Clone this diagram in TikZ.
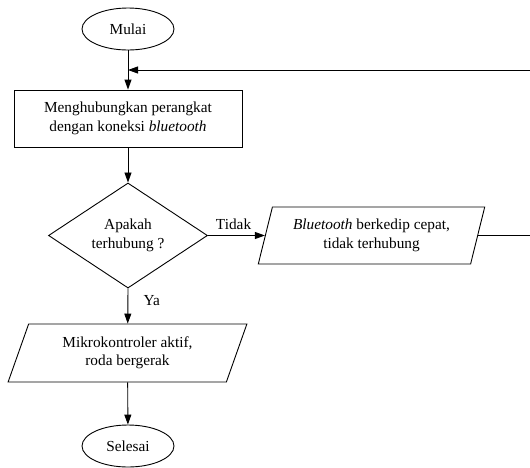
\documentclass[tikz,border=0pt]{standalone}
\usepackage{fontspec}
\setmainfont{Liberation Serif}
\usetikzlibrary{shapes.geometric,arrows.meta}
\begin{document}
\begin{tikzpicture}[x=1pt,y=-1pt,
  every node/.style={font=\fontsize{15.3}{18.5}\selectfont},
  term/.style={draw,ellipse,minimum width=92pt,minimum height=42pt,inner sep=0pt,line width=0.9pt},
  procbox/.style={draw,rectangle,minimum width=228pt,minimum height=57pt,align=center,inner sep=0pt,line width=0.9pt},
  decision/.style={draw,diamond,minimum width=159pt,minimum height=105pt,inner sep=0pt,align=center,line width=0.9pt},
  iobox/.style={draw,trapezium,trapezium stretches=true,align=center,inner sep=0pt,line width=0.9pt},
  flow/.style={line width=0.9pt,-{Triangle[length=10pt,width=7pt]}},
  plain/.style={line width=0.9pt},
  lbl/.style={font=\fontsize{15.3}{18}\selectfont}
]
\useasboundingbox (0,0) rectangle (530,467);
\node[term] (mulai) at (128,29) {Mulai};
\node[procbox] (hub) at (128,118.5) {Menghubungkan perangkat\\dengan koneksi \textit{bluetooth}};
\node[decision] (dec) at (128,235.5) {Apakah\\terhubung ?};
\node[iobox,trapezium left angle=71,trapezium right angle=109,minimum width=227pt,minimum height=57pt] (bt) at (371.5,235.5) {\textit{Bluetooth} berkedip cepat,\\tidak terhubung};
\node[iobox,trapezium left angle=67.5,trapezium right angle=112.5,minimum width=239pt,minimum height=58pt] (mk) at (127.5,353) {Mikrokontroler aktif,\\roda bergerak};
\node[term] (selesai) at (128,446) {Selesai};
\coordinate (jn) at (128,70);
\coordinate (rb) at (531,235.5);
\coordinate (rt) at (531,70);
\draw[flow] (mulai) -- (hub);
\draw[flow] (hub) -- (dec);
\draw[flow] (dec.east) -- node[lbl,above,pos=0.45,yshift=2pt] (tidak) {Tidak} (bt);
\draw[flow] (dec.south) -- node[lbl,right,pos=0.33,xshift=12pt] (ya) {Ya} (mk);
\draw[flow] (mk) -- (selesai);
\draw[plain] (bt.east) -- (rb) -- (rt);
\draw[flow] (rt) -- (jn);
\end{tikzpicture}
\end{document}
